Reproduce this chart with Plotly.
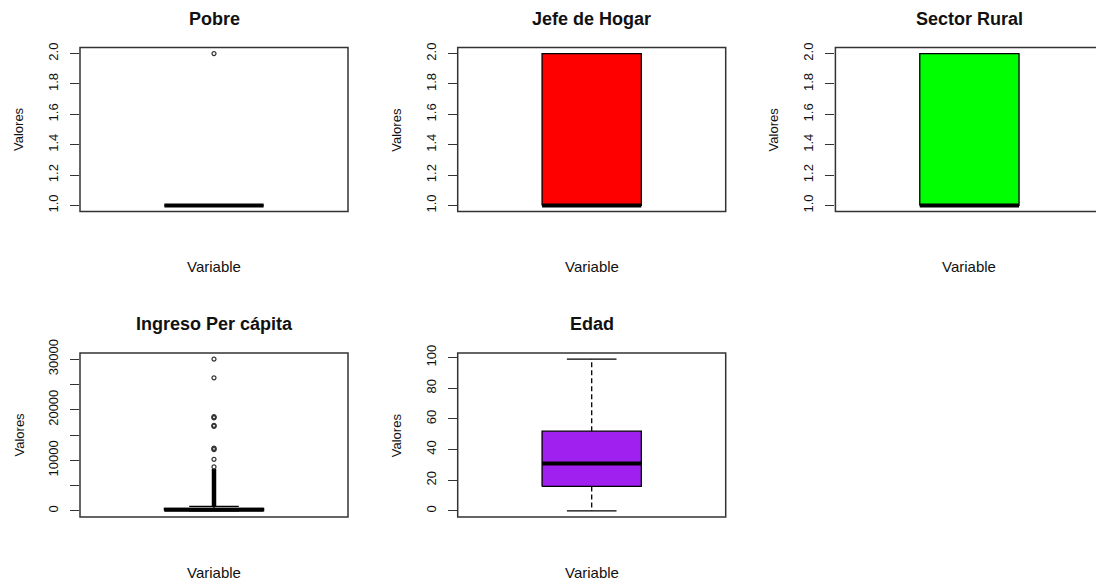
import plotly.graph_objects as go

# ---- data -------------------------------------------------------------
titles = ["Pobre", "Jefe de Hogar", "Sector Rural", "Ingreso Per cápita", "Edad"]
box_colors = ["white", "red", "#00FF00", "white", "#A020F0"]

# five-number summaries (lower whisker, Q1, median, Q3, upper whisker)
lower_whisker = [1, 1, 1, 0, 0]
q1 = [1, 1, 1, 80, 16]
median = [1, 1, 1, 230, 31]
q3 = [1, 2, 2, 480, 52]
upper_whisker = [1, 2, 2, 900, 99]

# individual outliers per variable
outliers = [
    [2],
    [],
    [],
    [30000, 26300, 18620, 18500, 18380, 16920, 16800, 16680,
     12400, 12250, 12100, 10200, 8700],
    [],
]
# income range densely packed with overlapping outliers
ingreso_dense_outliers = [900, 8300]

# y tick values and labels
binary_ticks = [1.0, 1.2, 1.4, 1.6, 1.8, 2.0]
binary_tick_labels = ["1.0", "1.2", "1.4", "1.6", "1.8", "2.0"]
ingreso_ticks = [0, 5000, 10000, 15000, 20000, 25000, 30000]
ingreso_tick_labels = ["0", "", "10000", "", "20000", "", "30000"]
edad_ticks = [0, 20, 40, 60, 80, 100]
edad_tick_labels = ["0", "20", "40", "60", "80", "100"]

tick_vals = [binary_ticks, binary_ticks, binary_ticks, ingreso_ticks, edad_ticks]
tick_text = [binary_tick_labels, binary_tick_labels, binary_tick_labels,
             ingreso_tick_labels, edad_tick_labels]

x_label = "Variable"
y_label = "Valores"

# ---- layout geometry (pixels) ----------------------------------------
W, H = 1096, 580
PANEL_W, PANEL_H = 268, 164
COL_LEFT = [80, 457.7, 835.4]
ROW_TOP = [47.5, 353.0]
X_LO, X_HI = 0.46, 1.54
CENTER = 1.0
BOX_HALF = 0.2
STAPLE_HALF = 0.1

FONT = "Liberation Sans, Arial, sans-serif"
INK = "#111111"
FRAME = "#333333"

fig = go.Figure()
layout = {}
shapes = []
annotations = []

for i, title in enumerate(titles):
    n = "" if i == 0 else str(i + 1)
    xa, ya = "x" + n, "y" + n
    row, col = divmod(i, 3)
    left, top = COL_LEFT[col], ROW_TOP[row]
    right = min(left + PANEL_W, W)
    vis_w = right - left
    x_range = [X_LO, X_LO + (X_HI - X_LO) * vis_w / PANEL_W]

    values = [lower_whisker[i], upper_whisker[i]] + outliers[i]
    lo, hi = min(values), max(values)
    pad = 0.04 * (hi - lo)

    layout["xaxis" + n] = dict(
        domain=[left / W, right / W], range=x_range, anchor=ya,
        visible=False, fixedrange=True, automargin=False,
    )
    layout["yaxis" + n] = dict(
        domain=[1 - (top + PANEL_H) / H, 1 - top / H],
        range=[lo - pad, hi + pad], anchor=xa, automargin=False,
        showgrid=False, zeroline=False, showline=False,
        ticks="outside", ticklen=9, tickwidth=1.3, tickcolor=FRAME,
        tickvals=tick_vals[i], ticktext=tick_text[i], tickangle=-90,
        tickfont=dict(family=FONT, size=13, color=INK),
        ticklabelstandoff=7, fixedrange=True,
    )

    # whiskers (dashed) and staples
    fig.add_trace(go.Scatter(
        x=[CENTER, CENTER, None, CENTER, CENTER],
        y=[q3[i], upper_whisker[i], None, q1[i], lower_whisker[i]],
        mode="lines", line=dict(color="black", width=1.3, dash="5px,3px"),
        xaxis=xa, yaxis=ya, hoverinfo="skip", showlegend=False,
    ))
    fig.add_trace(go.Scatter(
        x=[CENTER - STAPLE_HALF, CENTER + STAPLE_HALF, None,
           CENTER - STAPLE_HALF, CENTER + STAPLE_HALF],
        y=[upper_whisker[i], upper_whisker[i], None,
           lower_whisker[i], lower_whisker[i]],
        mode="lines", line=dict(color="black", width=1.3),
        xaxis=xa, yaxis=ya, hoverinfo="skip", showlegend=False,
    ))

    # dense outlier column for income
    if title == "Ingreso Per cápita":
        fig.add_trace(go.Scatter(
            x=[CENTER, CENTER], y=ingreso_dense_outliers,
            mode="lines", line=dict(color="black", width=4.5),
            xaxis=xa, yaxis=ya, hoverinfo="skip", showlegend=False,
        ))

    # box
    fig.add_trace(go.Scatter(
        x=[CENTER - BOX_HALF, CENTER + BOX_HALF, CENTER + BOX_HALF,
           CENTER - BOX_HALF, CENTER - BOX_HALF],
        y=[q1[i], q1[i], q3[i], q3[i], q1[i]],
        mode="lines", fill="toself", fillcolor=box_colors[i],
        line=dict(color="black", width=1.3),
        xaxis=xa, yaxis=ya, hoverinfo="skip", showlegend=False,
    ))
    # median
    fig.add_trace(go.Scatter(
        x=[CENTER - BOX_HALF, CENTER + BOX_HALF], y=[median[i], median[i]],
        mode="lines", line=dict(color="black", width=4),
        xaxis=xa, yaxis=ya, hoverinfo="skip", showlegend=False,
    ))
    # outliers
    if outliers[i]:
        fig.add_trace(go.Scatter(
            x=[CENTER] * len(outliers[i]), y=outliers[i], mode="markers",
            marker=dict(symbol="circle-open", size=4, color="#333333",
                        line=dict(width=1.2)),
            xaxis=xa, yaxis=ya, hoverinfo="skip", showlegend=False,
        ))

    # plot frame
    shapes.append(dict(
        type="rect", xref=xa + " domain", yref=ya + " domain",
        x0=0, x1=PANEL_W / vis_w, y0=0, y1=1,
        line=dict(color=FRAME, width=1.5), layer="above",
    ))

    cx = (left + PANEL_W / 2) / W
    annotations.append(dict(
        text=f"<b>{title}</b>", xref="paper", yref="paper",
        x=cx, y=1 - (top - 29) / H, xanchor="center", yanchor="middle",
        showarrow=False, font=dict(family=FONT, size=18, color=INK),
    ))
    annotations.append(dict(
        text=x_label, xref="paper", yref="paper",
        x=cx, y=1 - (top + PANEL_H + 55) / H, xanchor="center", yanchor="middle",
        showarrow=False, font=dict(family=FONT, size=15, color=INK),
    ))
    annotations.append(dict(
        text=y_label, xref="paper", yref="paper", textangle=-90,
        x=(left - 61.5) / W, y=1 - (top + PANEL_H / 2) / H,
        xanchor="center", yanchor="middle",
        showarrow=False, font=dict(family=FONT, size=13, color=INK),
    ))

fig.update_layout(
    width=W, height=H,
    margin=dict(l=0, r=0, t=0, b=0, autoexpand=False),
    paper_bgcolor="white", plot_bgcolor="white",
    showlegend=False,
    shapes=shapes, annotations=annotations,
    **layout,
)

fig.write_html("out.html", config={"displayModeBar": False})
